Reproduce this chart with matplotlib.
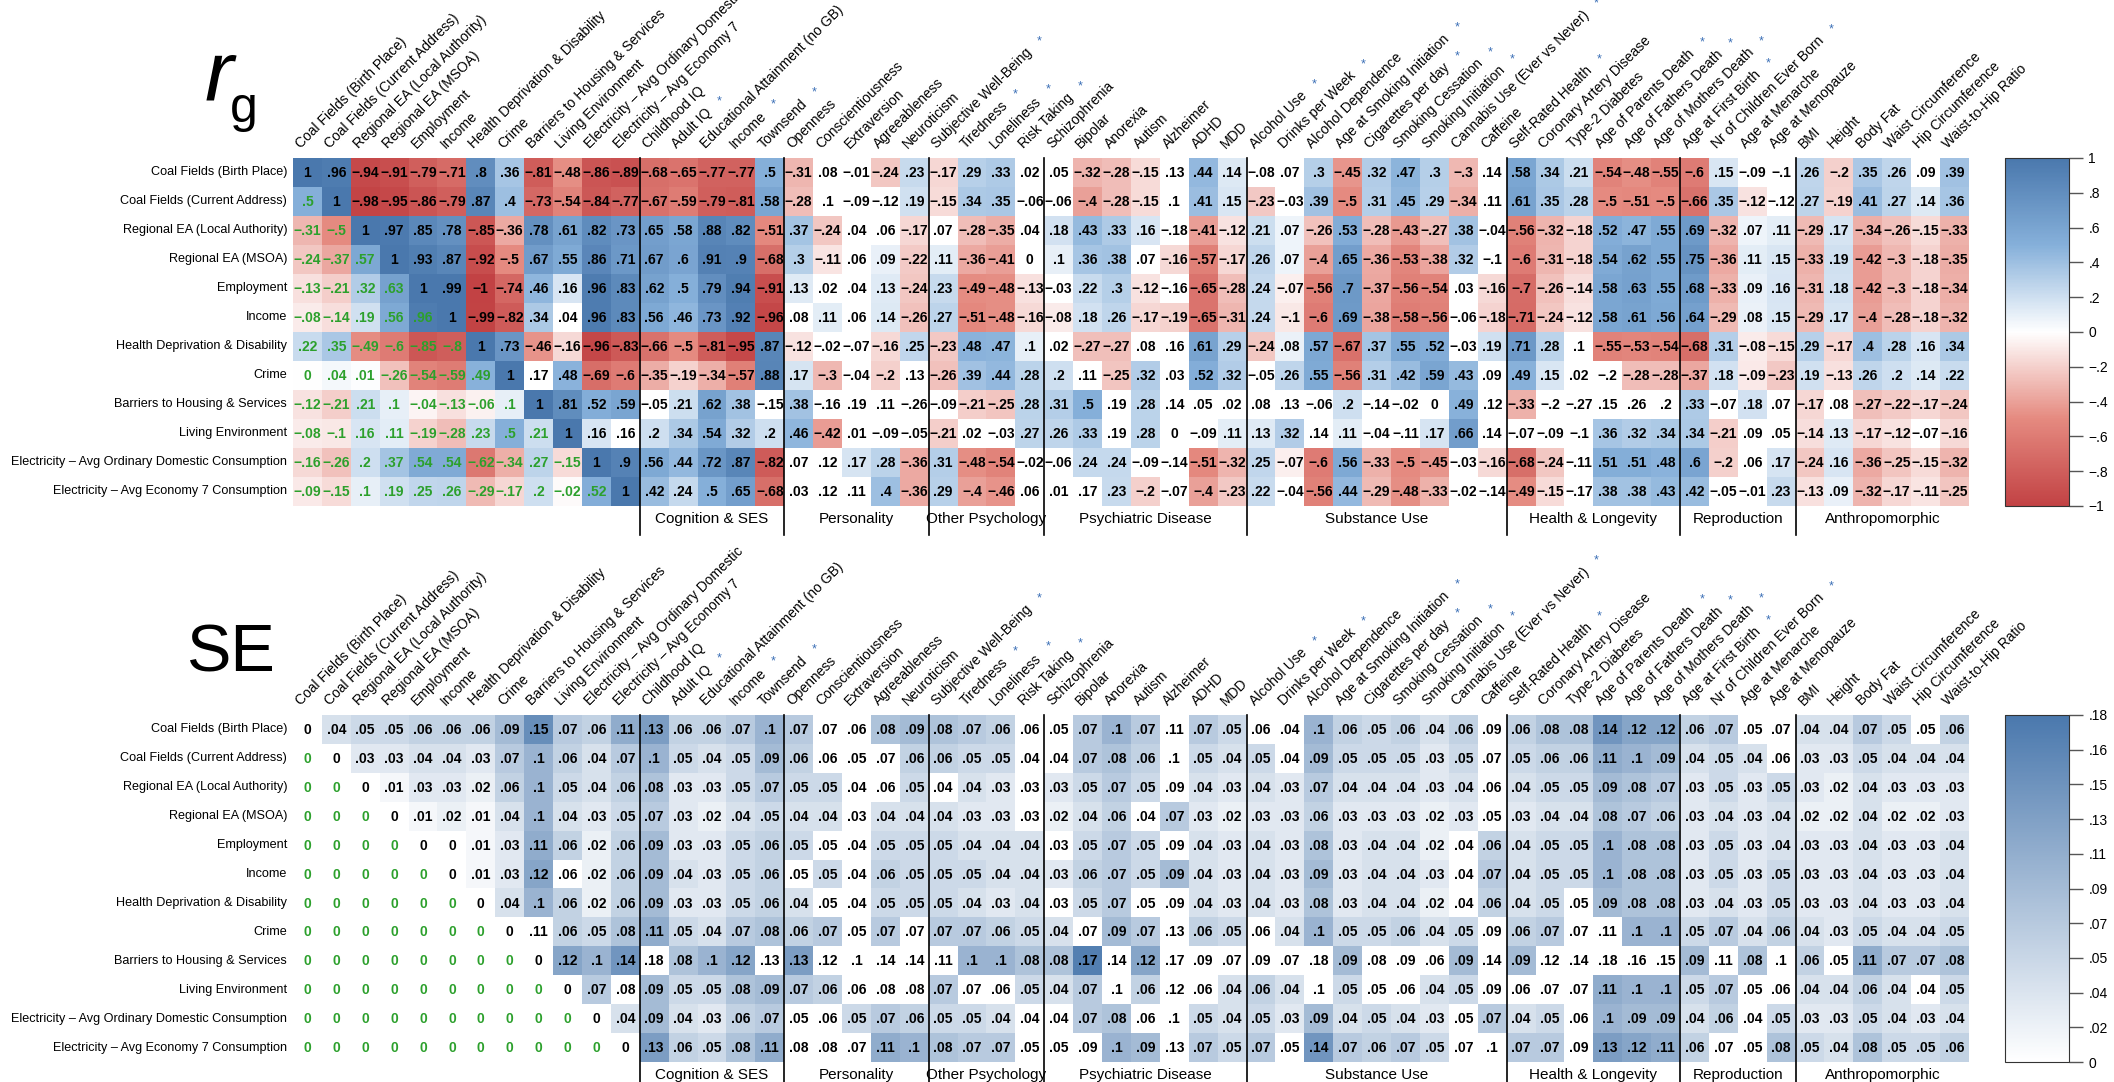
import numpy as np
import matplotlib
matplotlib.use("Agg")
import matplotlib.pyplot as plt
from matplotlib.colors import LinearSegmentedColormap

plt.rcParams['font.family'] = ['Liberation Sans', 'DejaVu Sans']

row_labels = ["Coal Fields (Birth Place)", "Coal Fields (Current Address)", "Regional EA (Local Authority)",
              "Regional EA (MSOA)", "Employment", "Income", "Health Deprivation & Disability", "Crime",
              "Barriers to Housing & Services", "Living Environment",
              "Electricity \u2013 Avg Ordinary Domestic Consumption", "Electricity \u2013 Avg Economy 7 Consumption"]

col_labels = ["Coal Fields (Birth Place)", "Coal Fields (Current Address)", "Regional EA (Local Authority)",
              "Regional EA (MSOA)", "Employment", "Income", "Health Deprivation & Disability", "Crime",
              "Barriers to Housing & Services", "Living Environment", "Electricity \u2013 Avg Ordinary Domestic",
              "Electricity \u2013 Avg Economy 7",
              "Childhood IQ", "Adult IQ", "Educational Attainment (no GB)", "Income", "Townsend",
              "Openness", "Conscientiousness", "Extraversion", "Agreeableness", "Neuroticism",
              "Subjective Well-Being", "Tiredness", "Loneliness", "Risk Taking",
              "Schizophrenia", "Bipolar", "Anorexia", "Autism", "Alzheimer", "ADHD", "MDD",
              "Alcohol Use", "Drinks per Week", "Alcohol Dependence", "Age at Smoking Initiation",
              "Cigarettes per day", "Smoking Cessation", "Smoking Initiation", "Cannabis Use (Ever vs Never)", "Caffeine",
              "Self-Rated Health", "Coronary Artery Disease", "Type-2 Diabetes", "Age of Parents Death",
              "Age of Fathers Death", "Age of Mothers Death",
              "Age at First Birth", "Nr of Children Ever Born", "Age at Menarche", "Age at Menopauze",
              "BMI", "Height", "Body Fat", "Waist Circumference", "Hip Circumference", "Waist-to-Hip Ratio"]

starred = {"Adult IQ", "Townsend", "Subjective Well-Being", "Tiredness", "Loneliness", "Risk Taking",
           "Alcohol Use", "Drinks per Week", "Age at Smoking Initiation", "Cigarettes per day",
           "Smoking Cessation", "Smoking Initiation", "Cannabis Use (Ever vs Never)", "Self-Rated Health",
           "Age of Parents Death", "Age of Fathers Death", "Age of Mothers Death", "Age at First Birth",
           "Nr of Children Ever Born"}
starred_idx = {15}  # second "Income"

groups = ["Cognition & SES", "Personality", "Other Psychology", "Psychiatric Disease",
          "Substance Use", "Health & Longevity", "Reproduction", "Anthropomorphic"]
group_sizes = [5, 5, 4, 7, 9, 6, 4, 6]

rg_values = [
 [1, .96, -.94, -.91, -.79, -.71, .8, .36, -.81, -.48, -.86, -.89, -.68, -.65, -.77, -.77, .5, -.31, .08, -.01, -.24, .23, -.17, .29, .33, .02, .05, -.32, -.28, -.15, .13, .44, .14, -.08, .07, .3, -.45, .32, .47, .3, -.3, .14, .58, .34, .21, -.54, -.48, -.55, -.6, .15, -.09, -.1, .26, -.2, .35, .26, .09, .39],
 [.5, 1, -.98, -.95, -.86, -.79, .87, .4, -.73, -.54, -.84, -.77, -.67, -.59, -.79, -.81, .58, -.28, .1, -.09, -.12, .19, -.15, .34, .35, -.06, -.06, -.4, -.28, -.15, .1, .41, .15, -.23, -.03, .39, -.5, .31, .45, .29, -.34, .11, .61, .35, .28, -.5, -.51, -.5, -.66, .35, -.12, -.12, .27, -.19, .41, .27, .14, .36],
 [-.31, -.5, 1, .97, .85, .78, -.85, -.36, .78, .61, .82, .73, .65, .58, .88, .82, -.51, .37, -.24, .04, .06, -.17, .07, -.28, -.35, .04, .18, .43, .33, .16, -.18, -.41, -.12, .21, .07, -.26, .53, -.28, -.43, -.27, .38, -.04, -.56, -.32, -.18, .52, .47, .55, .69, -.32, .07, .11, -.29, .17, -.34, -.26, -.15, -.33],
 [-.24, -.37, .57, 1, .93, .87, -.92, -.5, .67, .55, .86, .71, .67, .6, .91, .9, -.68, .3, -.11, .06, .09, -.22, .11, -.36, -.41, 0, .1, .36, .38, .07, -.16, -.57, -.17, .26, .07, -.4, .65, -.36, -.53, -.38, .32, -.1, -.6, -.31, -.18, .54, .62, .55, .75, -.36, .11, .15, -.33, .19, -.42, -.3, -.18, -.35],
 [-.13, -.21, .32, .63, 1, .99, -1, -.74, .46, .16, .96, .83, .62, .5, .79, .94, -.91, .13, .02, .04, .13, -.24, .23, -.49, -.48, -.13, -.03, .22, .3, -.12, -.16, -.65, -.28, .24, -.07, -.56, .7, -.37, -.56, -.54, .03, -.16, -.7, -.26, -.14, .58, .63, .55, .68, -.33, .09, .16, -.31, .18, -.42, -.3, -.18, -.34],
 [-.08, -.14, .19, .56, .96, 1, -.99, -.82, .34, .04, .96, .83, .56, .46, .73, .92, -.96, .08, .11, .06, .14, -.26, .27, -.51, -.48, -.16, -.08, .18, .26, -.17, -.19, -.65, -.31, .24, -.1, -.6, .69, -.38, -.58, -.56, -.06, -.18, -.71, -.24, -.12, .58, .61, .56, .64, -.29, .08, .15, -.29, .17, -.4, -.28, -.18, -.32],
 [.22, .35, -.49, -.6, -.85, -.8, 1, .73, -.46, -.16, -.96, -.83, -.66, -.5, -.81, -.95, .87, -.12, -.02, -.07, -.16, .25, -.23, .48, .47, .1, .02, -.27, -.27, .08, .16, .61, .29, -.24, .08, .57, -.67, .37, .55, .52, -.03, .19, .71, .28, .1, -.55, -.53, -.54, -.68, .31, -.08, -.15, .29, -.17, .4, .28, .16, .34],
 [0, .04, .01, -.26, -.54, -.59, .49, 1, .17, .48, -.69, -.6, -.35, -.19, -.34, -.57, .88, .17, -.3, -.04, -.2, .13, -.26, .39, .44, .28, .2, .11, -.25, .32, .03, .52, .32, -.05, .26, .55, -.56, .31, .42, .59, .43, .09, .49, .15, .02, -.2, -.28, -.28, -.37, .18, -.09, -.23, .19, -.13, .26, .2, .14, .22],
 [-.12, -.21, .21, .1, -.04, -.13, -.06, .1, 1, .81, .52, .59, -.05, .21, .62, .38, -.15, .38, -.16, .19, .11, -.26, -.09, -.21, -.25, .28, .31, .5, .19, .28, .14, .05, .02, .08, .13, -.06, .2, -.14, -.02, 0, .49, .12, -.33, -.2, -.27, .15, .26, .2, .33, -.07, .18, .07, -.17, .08, -.27, -.22, -.17, -.24],
 [-.08, -.1, .16, .11, -.19, -.28, .23, .5, .21, 1, .16, .16, .2, .34, .54, .32, .2, .46, -.42, .01, -.09, -.05, -.21, .02, -.03, .27, .26, .33, .19, .28, 0, -.09, .11, .13, .32, .14, .11, -.04, -.11, .17, .66, .14, -.07, -.09, -.1, .36, .32, .34, .34, -.21, .09, .05, -.14, .13, -.17, -.12, -.07, -.16],
 [-.16, -.26, .2, .37, .54, .54, -.62, -.34, .27, -.15, 1, .9, .56, .44, .72, .87, -.82, .07, .12, .17, .28, -.36, .31, -.48, -.54, -.02, -.06, .24, .24, -.09, -.14, -.51, -.32, .25, -.07, -.6, .56, -.33, -.5, -.45, -.03, -.16, -.68, -.24, -.11, .51, .51, .48, .6, -.2, .06, .17, -.24, .16, -.36, -.25, -.15, -.32],
 [-.09, -.15, .1, .19, .25, .26, -.29, -.17, .2, -.02, .52, 1, .42, .24, .5, .65, -.68, .03, .12, .11, .4, -.36, .29, -.4, -.46, .06, .01, .17, .23, -.2, -.07, -.4, -.23, .22, -.04, -.56, .44, -.29, -.48, -.33, -.02, -.14, -.49, -.15, -.17, .38, .38, .43, .42, -.05, -.01, .23, -.13, .09, -.32, -.17, -.11, -.25],
]

se_values = [
 [0, .04, .05, .05, .06, .06, .06, .09, .15, .07, .06, .11, .13, .06, .06, .07, .1, .07, .07, .06, .08, .09, .08, .07, .06, .06, .05, .07, .1, .07, .11, .07, .05, .06, .04, .1, .06, .05, .06, .04, .06, .09, .06, .08, .08, .14, .12, .12, .06, .07, .05, .07, .04, .04, .07, .05, .05, .06],
 [0, 0, .03, .03, .04, .04, .03, .07, .1, .06, .04, .07, .1, .05, .04, .05, .09, .06, .06, .05, .07, .06, .06, .05, .05, .04, .04, .07, .08, .06, .1, .05, .04, .05, .04, .09, .05, .05, .05, .03, .05, .07, .05, .06, .06, .11, .1, .09, .04, .05, .04, .06, .03, .03, .05, .04, .04, .04],
 [0, 0, 0, .01, .03, .03, .02, .06, .1, .05, .04, .06, .08, .03, .03, .05, .07, .05, .05, .04, .06, .05, .04, .04, .03, .03, .03, .05, .07, .05, .09, .04, .03, .04, .03, .07, .04, .04, .04, .03, .04, .06, .04, .05, .05, .09, .08, .07, .03, .05, .03, .05, .03, .02, .04, .03, .03, .03],
 [0, 0, 0, 0, .01, .02, .01, .04, .1, .04, .03, .05, .07, .03, .02, .04, .05, .04, .04, .03, .04, .04, .04, .03, .03, .03, .02, .04, .06, .04, .07, .03, .02, .03, .03, .06, .03, .03, .03, .02, .03, .05, .03, .04, .04, .08, .07, .06, .03, .04, .03, .04, .02, .02, .04, .02, .02, .03],
 [0, 0, 0, 0, 0, 0, .01, .03, .11, .06, .02, .06, .09, .03, .03, .05, .06, .05, .05, .04, .05, .05, .05, .04, .04, .04, .03, .05, .07, .05, .09, .04, .03, .04, .03, .08, .03, .04, .04, .02, .04, .06, .04, .05, .05, .1, .08, .08, .03, .05, .03, .04, .03, .03, .04, .03, .03, .04],
 [0, 0, 0, 0, 0, 0, .01, .03, .12, .06, .02, .06, .09, .04, .03, .05, .06, .05, .05, .04, .06, .05, .05, .05, .04, .04, .03, .06, .07, .05, .09, .04, .03, .04, .03, .09, .03, .04, .04, .03, .04, .07, .04, .05, .05, .1, .08, .08, .03, .05, .03, .05, .03, .03, .04, .03, .03, .04],
 [0, 0, 0, 0, 0, 0, 0, .04, .1, .06, .02, .06, .09, .03, .03, .05, .06, .04, .05, .04, .05, .05, .05, .04, .03, .04, .03, .05, .07, .05, .09, .04, .03, .04, .03, .08, .03, .04, .04, .02, .04, .06, .04, .05, .05, .09, .08, .08, .03, .04, .03, .05, .03, .03, .04, .03, .03, .04],
 [0, 0, 0, 0, 0, 0, 0, 0, .11, .06, .05, .08, .11, .05, .04, .07, .08, .06, .07, .05, .07, .07, .07, .07, .06, .05, .04, .07, .09, .07, .13, .06, .05, .06, .04, .1, .05, .05, .06, .04, .05, .09, .06, .07, .07, .11, .1, .1, .05, .07, .04, .06, .04, .03, .05, .04, .04, .05],
 [0, 0, 0, 0, 0, 0, 0, 0, 0, .12, .1, .14, .18, .08, .1, .12, .13, .13, .12, .1, .14, .14, .11, .1, .1, .08, .08, .17, .14, .12, .17, .09, .07, .09, .07, .18, .09, .08, .09, .06, .09, .14, .09, .12, .14, .18, .16, .15, .09, .11, .08, .1, .06, .05, .11, .07, .07, .08],
 [0, 0, 0, 0, 0, 0, 0, 0, 0, 0, .07, .08, .09, .05, .05, .08, .09, .07, .06, .06, .08, .08, .07, .07, .06, .05, .04, .07, .1, .06, .12, .06, .04, .06, .04, .1, .05, .05, .06, .04, .05, .09, .06, .07, .07, .11, .1, .1, .05, .07, .05, .06, .04, .04, .06, .04, .04, .05],
 [0, 0, 0, 0, 0, 0, 0, 0, 0, 0, 0, .04, .09, .04, .03, .06, .07, .05, .06, .05, .07, .06, .05, .05, .04, .04, .04, .07, .08, .06, .1, .05, .04, .05, .03, .09, .04, .05, .04, .03, .05, .07, .04, .05, .06, .1, .09, .09, .04, .06, .04, .05, .03, .03, .05, .04, .03, .04],
 [0, 0, 0, 0, 0, 0, 0, 0, 0, 0, 0, 0, .13, .06, .05, .08, .11, .08, .08, .07, .11, .1, .08, .07, .07, .05, .05, .09, .1, .09, .13, .07, .05, .07, .05, .14, .07, .06, .07, .05, .07, .1, .07, .07, .09, .13, .12, .11, .06, .07, .05, .08, .05, .04, .08, .05, .05, .06],
]

rg = np.array(rg_values, float)
se = np.array(se_values, float)
nr, nc = rg.shape
nb = 12

def fmt(v):
    if v == 0:
        return "0"
    s = f"{abs(v):.2f}".rstrip("0").rstrip(".")
    if s.startswith("0"):
        s = s[1:]
    return ("\u2212" if v < 0 else "") + s

with np.errstate(divide="ignore", invalid="ignore"):
    z = np.abs(rg) / se
ii, jj = np.indices(rg.shape)
lower = (jj < nb) & (jj < ii)
diag = (jj == ii)
sig = (z >= 2.05) | diag | lower

cmap_rg = LinearSegmentedColormap.from_list("rg", ["#c24244", "#e58a80", "#ffffff", "#86b0da", "#4a78ad"])
cmap_se = LinearSegmentedColormap.from_list("se", ["#ffffff", "#4a78ad"])

W, H = 2114, 1082
fig = plt.figure(figsize=(W / 100, H / 100), dpi=100)

def fbox(x0, y0, x1, y1):
    return [x0 / W, 1 - y1 / H, (x1 - x0) / W, (y1 - y0) / H]

rg_disp = np.where(sig, rg, np.nan)
se_disp = np.where(sig & ~lower & ~diag, se, np.nan)

panels = [
    dict(data=rg_disp, vals=rg, cmap=cmap_rg, vmin=-1, vmax=1, top=158, bot=506,
         cb_ticks=np.linspace(-1, 1, 11), cb_labels=["\u22121", "\u2212.8", "\u2212.6", "\u2212.4", "\u2212.2", "0", ".2", ".4", ".6", ".8", "1"]),
    dict(data=se_disp, vals=se, cmap=cmap_se, vmin=0, vmax=0.18, top=715, bot=1062,
         cb_ticks=np.linspace(0, 0.18, 11), cb_labels=["0", ".02", ".04", ".05", ".07", ".09", ".11", ".13", ".15", ".16", ".18"]),
]

star_texts = []
for p in panels:
    ax = fig.add_axes(fbox(293, p["top"], 1969, p["bot"]))
    cm = p["cmap"].copy()
    cm.set_bad("white")
    im = ax.imshow(np.ma.masked_invalid(p["data"]), cmap=cm, vmin=p["vmin"], vmax=p["vmax"],
                   aspect="auto", extent=(0, nc, nr, 0), interpolation="nearest")
    ax.set_xlim(0, nc); ax.set_ylim(nr, 0)
    ax.set_xticks([]); ax.set_yticks([])
    for s in ax.spines.values():
        s.set_visible(False)
    for i in range(nr):
        ax.text(-0.2, i + 0.5, row_labels[i], ha="right", va="center", fontsize=9.1)
        for j in range(nc):
            col = "#2ca02c" if lower[i, j] else "black"
            ax.text(j + 0.5, i + 0.52, fmt(p["vals"][i, j]), ha="center", va="center",
                    fontsize=10, fontweight="bold", color=col)
    for j, lab in enumerate(col_labels):
        t = ax.text(j + 0.35, -0.25, lab, rotation=45, ha="left", va="bottom",
                    rotation_mode="anchor", fontsize=10)
        if lab in starred or j in starred_idx:
            star_texts.append((ax, t))
    b = nb
    for g, n in zip(groups, group_sizes):
        ax.plot([b, b], [0, nr + 1.0], color="black", lw=1.2, clip_on=False)
        ax.text(b + n / 2, nr + 0.45, g, ha="center", va="center", fontsize=11)
        b += n
    cax = fig.add_axes(fbox(2005, p["top"], 2069, p["bot"]))
    cb = fig.colorbar(im, cax=cax)
    cb.set_ticks(p["cb_ticks"])
    cb.set_ticklabels(p["cb_labels"])
    cb.ax.tick_params(length=10, width=1, color="#555555", labelsize=10, pad=4)
    cb.outline.set_edgecolor("#333333")

fig.text(205 / W, 1 - 100 / H, "r", fontsize=62, style="italic", ha="left", va="baseline")
fig.text(230 / W, 1 - 122 / H, "g", fontsize=36, ha="left", va="baseline")
fig.text(186 / W, 1 - 672 / H, "SE", fontsize=48, ha="left", va="baseline")

fig.canvas.draw()
r = fig.canvas.get_renderer()
for ax, t in star_texts:
    bb = t.get_window_extent(r)
    fig.text((bb.x1 + 2) / W, (bb.y1 - 2) / H, "*", color="#3b6fb6", fontsize=9,
             ha="left", va="bottom")

fig.savefig("out.png", dpi=100)
